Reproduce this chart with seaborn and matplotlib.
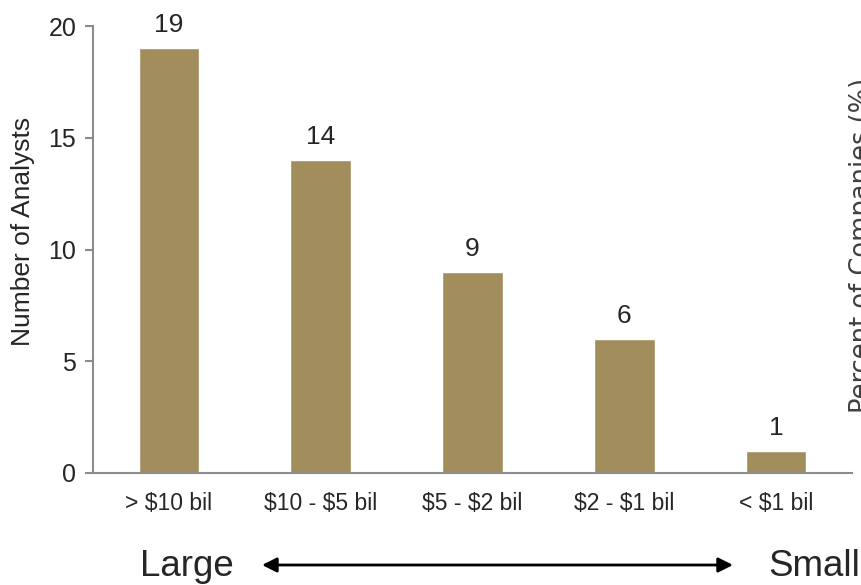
import matplotlib
matplotlib.use("Agg")
import matplotlib.pyplot as plt
import seaborn as sns
import pandas as pd

categories = ["> $10 bil", "$10 - $5 bil", "$5 - $2 bil", "$2 - $1 bil", "< $1 bil"]
analysts = [19, 14, 9, 6, 1]
y_ticks = [0, 5, 10, 15, 20]

sns.set_theme(style="white")
plt.rcParams["font.family"] = ["Liberation Sans", "DejaVu Sans"]
plt.rcParams["text.parse_math"] = False

bar_color = "#A28D5D"
spine_color = "#8C8C8C"
text_color = "#262626"

df = pd.DataFrame({"size": categories, "count": analysts})

fig = plt.figure(figsize=(8.61, 5.85), dpi=100)
ax = fig.add_axes([0.108, 0.1915, 0.8815, 0.764])

sns.barplot(data=df, x="size", y="count", color=bar_color, saturation=1,
            width=0.4, ax=ax)

ax.set_xlim(-0.5, len(categories) - 0.5)
ax.set_ylim(0, 20)
ax.set_yticks(y_ticks)

for c in ax.containers:
    ax.bar_label(c, padding=8, fontsize=19, color=text_color)

sns.despine(ax=ax, top=True, right=True)
for side in ("left", "bottom"):
    ax.spines[side].set_color(spine_color)
    ax.spines[side].set_linewidth(1.5)

ax.tick_params(axis="y", which="major", left=True, length=6, width=1.5,
               color=spine_color, labelsize=18, labelcolor=text_color, pad=6)
ax.tick_params(axis="x", bottom=False, length=0, pad=14, labelcolor=text_color)
for lbl in ax.get_xticklabels():
    lbl.set_fontsize(16.5)

ax.set_xlabel("")
ax.set_ylabel("Number of Analysts", fontsize=19, color=text_color)
ax.yaxis.set_label_coords(-0.0764, 0.541)

# size direction indicator beneath the category axis
fig.text(140 / 861, 1 - 566 / 585, "Large", fontsize=26.5, color=text_color,
         ha="left", va="center")
fig.text(768 / 861, 1 - 566 / 585, "Small", fontsize=26.5, color=text_color,
         ha="left", va="center")
ax.annotate("", xy=(733 / 861, 1 - 565 / 585), xytext=(262 / 861, 1 - 565 / 585),
            xycoords="figure fraction", textcoords="figure fraction",
            arrowprops=dict(arrowstyle="<|-|>", color="black", lw=2,
                            mutation_scale=22, shrinkA=0, shrinkB=0))

# secondary axis title at the right edge
fig.text(849 / 861, 1 - 245 / 585, "Percent of Companies (%)", fontsize=18.5,
         color="#404040", rotation=90, ha="left", va="center",
         family=["DejaVu Sans"])

fig.savefig("out.png", dpi=100)
